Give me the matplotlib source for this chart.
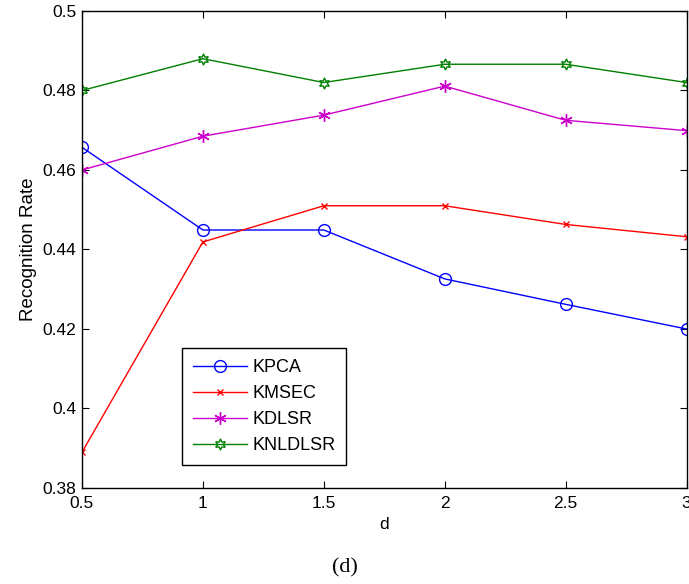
import matplotlib
matplotlib.use("Agg")
import matplotlib.pyplot as plt

# ── Data ──────────────────────────────────────────────────────────────────────

d_values = [0.5, 1.0, 1.5, 2.0, 2.5, 3.0]

kpca    = [0.4657, 0.4449, 0.4449, 0.4326, 0.4262, 0.4200]
kmsec   = [0.3890, 0.4419, 0.4510, 0.4510, 0.4463, 0.4432]
kdlsr   = [0.4600, 0.4685, 0.4738, 0.4811, 0.4725, 0.4699]
knldlsr = [0.4800, 0.4880, 0.4820, 0.4866, 0.4866, 0.4820]

xticks = [0.5, 1, 1.5, 2, 2.5, 3]
xtick_labels = ["0.5", "1", "1.5", "2", "2.5", "3"]
yticks = [0.38, 0.40, 0.42, 0.44, 0.46, 0.48, 0.50]
ytick_labels = ["0.38", "0.4", "0.42", "0.44", "0.46", "0.48", "0.5"]

# ── Chart ─────────────────────────────────────────────────────────────────────

plt.rcParams["font.family"] = ["Liberation Sans", "DejaVu Sans"]

fig = plt.figure(figsize=(6.89, 5.84), dpi=100)
ax = fig.add_axes([0.119, 0.1644, 0.8775, 0.8168])

ASTERISK = (6, 2, 0)
HEXAGRAM = (6, 1, 0)

ax.plot(d_values, kpca, color="#0000ff", lw=1, marker="o", ms=8.5,
        mfc="none", mew=1, label="KPCA")
ax.plot(d_values, kmsec, color="#ff0000", lw=1, marker="x", ms=5,
        mew=1, label="KMSEC")
ax.plot(d_values, kdlsr, color="#cc00cc", lw=1, marker=ASTERISK, ms=9,
        mew=1, label="KDLSR")
ax.plot(d_values, knldlsr, color="#007f00", lw=1, marker=HEXAGRAM, ms=8,
        mfc="none", mew=1, label="KNLDLSR")

ax.set_xlim(0.5, 3)
ax.set_ylim(0.38, 0.5)
ax.set_xticks(xticks, xtick_labels)
ax.set_yticks(yticks, ytick_labels)
ax.tick_params(direction="in", top=True, right=True, length=5, width=0.8,
               labelsize=12.5)
ax.tick_params(axis="x", pad=6)
ax.tick_params(axis="y", pad=4)
for s in ax.spines.values():
    s.set_linewidth(1)

ax.set_xlabel("d", fontsize=12.5, labelpad=4)
ax.set_ylabel("Recognition Rate", fontsize=13.5, labelpad=4)

leg = ax.legend(loc="lower left", bbox_to_anchor=(0.1654, 0.048),
                fontsize=13, frameon=True, fancybox=False, framealpha=1,
                edgecolor="black", handlelength=3.0, handletextpad=0.3,
                borderpad=0.6, labelspacing=0.5, borderaxespad=0)
leg.get_frame().set_linewidth(1)

fig.text(0.5, 0.027, "(d)", ha="center", va="center", fontsize=16,
         family=["Liberation Serif", "DejaVu Serif"])

plt.savefig("out.png", dpi=100)
